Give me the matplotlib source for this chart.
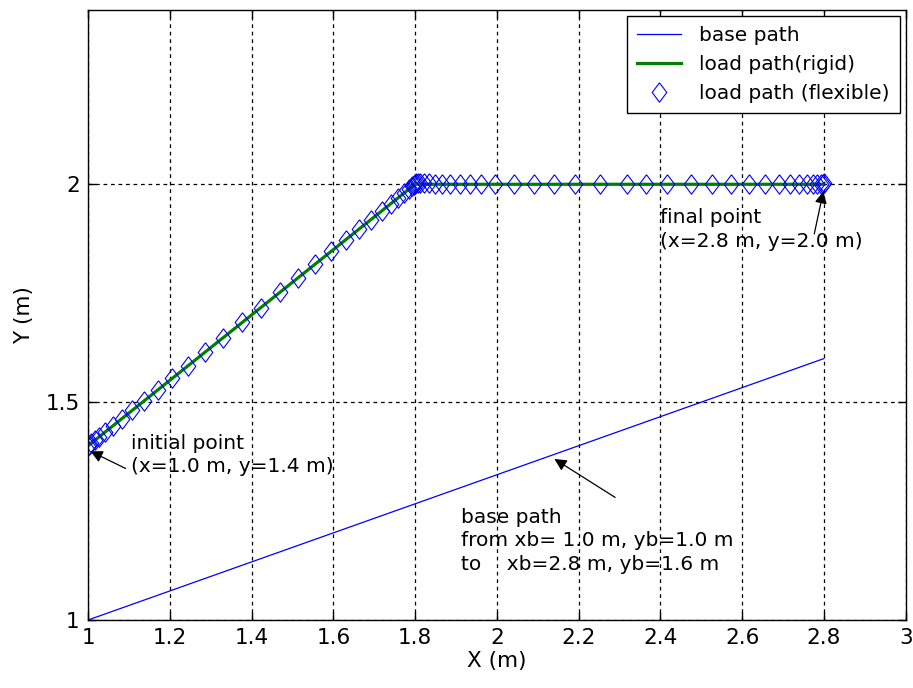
import matplotlib
matplotlib.use("Agg")
import matplotlib.pyplot as plt

# base path (straight line of the moving base)
base_x = [1.0, 2.8]
base_y = [1.0, 1.6]

# rigid load path: diagonal then horizontal
rigid_x = [1.0, 1.8, 2.8]
rigid_y = [1.4, 2.0, 2.0]

# flexible load path samples
flex_x = [1.000, 1.003, 1.008, 1.016, 1.027, 1.042, 1.060, 1.082, 1.108, 1.137,
          1.170, 1.206, 1.245, 1.287, 1.331, 1.377, 1.423, 1.469, 1.513, 1.555,
          1.594, 1.630, 1.663, 1.692, 1.718, 1.740, 1.758, 1.773, 1.785, 1.793,
          1.798, 1.800,
          1.802, 1.806, 1.812, 1.821, 1.833, 1.848, 1.866, 1.886, 1.909, 1.934,
          1.961, 1.995, 2.041, 2.090, 2.139, 2.192, 2.253, 2.319, 2.364, 2.417,
          2.474, 2.527, 2.572, 2.616, 2.657, 2.690, 2.718, 2.739, 2.759, 2.773,
          2.784, 2.792, 2.797, 2.800]
flex_y = [1.400, 1.402, 1.406, 1.412, 1.420, 1.432, 1.445, 1.462, 1.481, 1.503,
          1.528, 1.555, 1.584, 1.615, 1.648, 1.683, 1.717, 1.752, 1.785, 1.816,
          1.846, 1.873, 1.897, 1.919, 1.939, 1.955, 1.969, 1.980, 1.989, 1.995,
          1.999, 2.000,
          2.002, 2.003, 2.003, 2.002, 2.002, 2.001, 2.001, 2.000, 2.000, 2.000,
          2.000, 2.000, 2.000, 2.000, 2.000, 2.000, 2.000, 2.000, 2.000, 2.000,
          2.000, 2.000, 2.000, 2.000, 2.000, 2.000, 2.000, 2.000, 2.000, 2.000,
          2.000, 2.000, 2.001, 2.002]

x_ticks = [1, 1.2, 1.4, 1.6, 1.8, 2, 2.2, 2.4, 2.6, 2.8, 3]
x_tick_labels = ["1", "1.2", "1.4", "1.6", "1.8", "2", "2.2", "2.4", "2.6", "2.8", "3"]
y_ticks = [1, 1.5, 2]
y_tick_labels = ["1", "1.5", "2"]

FS = 14.5          # annotation / legend text
TICK_FS = 15.5
plt.rcParams["font.family"] = ["DejaVu Sans"]

fig = plt.figure(figsize=(9.13, 6.88), dpi=100)
fig.patch.set_facecolor("white")
ax = fig.add_axes([0.0964, 0.0988, 0.8956, 0.8867])

ax.plot(base_x, base_y, color="#0000ff", lw=0.9, label="base path")
ax.plot(rigid_x, rigid_y, color="#008000", lw=2.3, label="load path(rigid)")
diamond = [(0, 1), (0.75, 0), (0, -1), (-0.75, 0), (0, 1)]
ax.plot(flex_x, flex_y, linestyle="none", marker=diamond, markersize=14,
        markerfacecolor="none", markeredgecolor="#0000ff", markeredgewidth=0.8,
        label="load path (flexible)")

ax.set_xlim(1, 3)
ax.set_ylim(1, 2.4)
ax.set_xticks(x_ticks)
ax.set_xticklabels(x_tick_labels, fontsize=TICK_FS)
ax.set_yticks(y_ticks)
ax.set_yticklabels(y_tick_labels, fontsize=TICK_FS)
ax.tick_params(direction="in", top=True, right=True, length=6, width=1, pad=6)
ax.grid(True, color="black", linestyle=(0, (3, 3)), linewidth=0.9)
for s in ax.spines.values():
    s.set_linewidth(1.0)
ax.set_xlabel("X (m)", fontsize=TICK_FS, labelpad=2)
ax.set_ylabel("Y (m)", fontsize=TICK_FS, labelpad=8)

arrow = dict(arrowstyle="-|>", color="black", lw=0.9, mutation_scale=18)
ax.text(2.398, 1.945, "final point\n(x=2.8 m, y=2.0 m)", fontsize=FS,
        ha="left", va="top", linespacing=1.3)
ax.annotate("", xy=(2.8, 1.99), xytext=(2.775, 1.88), arrowprops=arrow)
ax.text(1.106, 1.428, "initial point\n(x=1.0 m, y=1.4 m)", fontsize=FS,
        ha="left", va="top", linespacing=1.3)
ax.annotate("", xy=(1.0, 1.39), xytext=(1.098, 1.345), arrowprops=arrow)
ax.text(1.913, 1.258, "base path\nfrom xb= 1.0 m, yb=1.0 m\nto    xb=2.8 m, yb=1.6 m",
        fontsize=FS, ha="left", va="top", linespacing=1.3)
ax.annotate("", xy=(2.135, 1.373), xytext=(2.295, 1.278), arrowprops=arrow)

leg = ax.legend(loc="upper right", fontsize=FS, frameon=True, fancybox=False,
                edgecolor="black", framealpha=1, borderaxespad=0.3,
                handlelength=2.2, labelspacing=0.5, borderpad=0.5,
                handletextpad=0.9)
leg.get_frame().set_linewidth(1.0)

fig.savefig("out.png", dpi=100, facecolor="white")
